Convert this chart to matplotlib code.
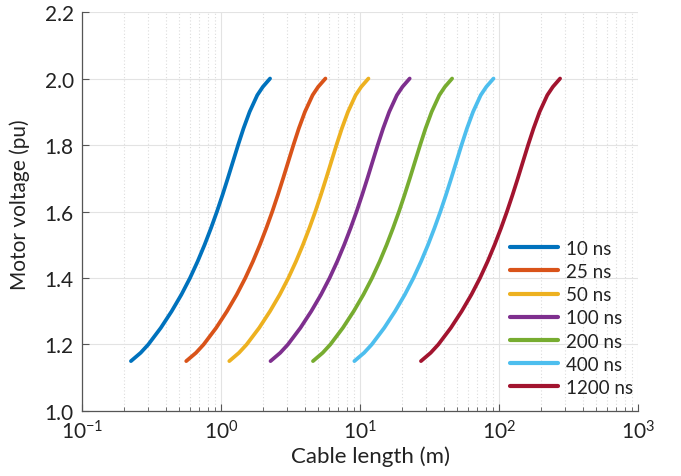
import matplotlib
matplotlib.use("Agg")
import matplotlib.pyplot as plt
from matplotlib.ticker import LogLocator, FormatStrFormatter

plt.rcParams['font.family'] = ['Lato', 'DejaVu Sans']

# Motor voltage levels (pu) shared by all curves
voltage = [1.15, 1.175, 1.2, 1.25, 1.3, 1.35, 1.4, 1.45, 1.5, 1.55, 1.6,
           1.65, 1.7, 1.75, 1.8, 1.85, 1.9, 1.95, 1.975, 2.0]

# Cable length (m)
len_10ns = [0.2249, 0.2642, 0.2999, 0.369, 0.4416, 0.5188, 0.5984, 0.6792, 0.7621, 0.8472,
            0.9354, 1.0257, 1.1194, 1.219, 1.3274, 1.4521, 1.6069, 1.8239, 2.0, 2.254]
len_25ns = [0.562, 0.661, 0.750, 0.923, 1.104, 1.297, 1.496, 1.698, 1.905, 2.118,
            2.339, 2.564, 2.799, 3.048, 3.319, 3.630, 4.017, 4.560, 5.00, 5.64]
len_50ns = [1.147, 1.347, 1.529, 1.882, 2.252, 2.646, 3.052, 3.464, 3.887, 4.321,
            4.771, 5.231, 5.709, 6.217, 6.770, 7.406, 8.195, 9.302, 10.20, 11.50]
len_100ns = [2.271, 2.668, 3.029, 3.727, 4.460, 5.240, 6.044, 6.860, 7.697, 8.557,
             9.448, 10.36, 11.31, 12.31, 13.41, 14.67, 16.23, 18.42, 20.20, 22.77]
len_200ns = [4.588, 5.390, 6.118, 7.528, 9.009, 10.58, 12.21, 13.86, 15.55, 17.28,
             19.08, 20.92, 22.84, 24.87, 27.08, 29.62, 32.78, 37.21, 40.80, 45.98]
len_400ns = [9.108, 10.70, 12.15, 14.94, 17.88, 21.01, 24.24, 27.51, 30.87, 34.31,
             37.88, 41.54, 45.34, 49.37, 53.76, 58.81, 65.08, 73.87, 81.0, 91.29]
len_1200ns = [27.44, 32.23, 36.59, 45.02, 53.88, 63.29, 73.00, 82.86, 92.98, 103.4,
              114.1, 125.1, 136.6, 148.7, 161.9, 177.2, 196.0, 222.5, 244.0, 275.0]

labels = ['10 ns', '25 ns', '50 ns', '100 ns', '200 ns', '400 ns', '1200 ns']
series = [len_10ns, len_25ns, len_50ns, len_100ns, len_200ns, len_400ns, len_1200ns]
colors = ['#0072BD', '#D95319', '#EDB120', '#7E2F8E', '#77AC30', '#4DBEEE', '#A2142F']

fig = plt.figure(figsize=(6.81, 4.77), dpi=100)
ax = fig.add_axes([0.1204, 0.1363, 0.8165, 0.8364])

for xs, lab, c in zip(series, labels, colors):
    ax.plot(xs, voltage, color=c, lw=2.7, label=lab,
            solid_capstyle='round', solid_joinstyle='round')

ax.set_xscale('log')
ax.set_xlim(0.1, 1000)
ax.set_ylim(1.0, 2.2)
ax.set_yticks([1.0, 1.2, 1.4, 1.6, 1.8, 2.0, 2.2])
ax.yaxis.set_major_formatter(FormatStrFormatter('%.1f'))
ax.xaxis.set_major_locator(LogLocator(base=10, numticks=10))
ax.xaxis.set_minor_locator(LogLocator(base=10, subs=range(2, 10), numticks=100))

ax.grid(True, which='major', color='#e3e3e3', lw=0.8, ls='-')
ax.grid(True, which='minor', axis='x', color='#dcdcdc', lw=0.8, ls=(0, (1, 2)))
ax.set_axisbelow(True)

for s in ['top', 'right']:
    ax.spines[s].set_visible(False)
for s in ['left', 'bottom']:
    ax.spines[s].set_color('#555555')
    ax.spines[s].set_linewidth(0.9)

ax.tick_params(which='both', direction='in', colors='#555555', labelcolor='#222222')
ax.tick_params(which='major', length=5, labelsize=15)
ax.tick_params(which='minor', length=3)
ax.tick_params(axis='x', pad=6)
ax.tick_params(axis='y', pad=6)

ax.set_xlabel('Cable length (m)', fontsize=16, color='#222222', labelpad=2)
ax.xaxis.label.set_x(0.518)
ax.set_ylabel('Motor voltage (pu)', fontsize=15, color='#222222', va='center')
ax.yaxis.set_label_coords(-0.1115, 0.52)

leg = ax.legend(loc='upper left', bbox_to_anchor=(0.769, 0.429), frameon=False,
                fontsize=13.5, handlelength=2.56, handletextpad=0.43,
                labelspacing=0.33, borderpad=0, borderaxespad=0)
for t in leg.get_texts():
    t.set_color('#222222')
for l in leg.get_lines():
    l.set_linewidth(3)

fig.savefig('out.png', dpi=100)
